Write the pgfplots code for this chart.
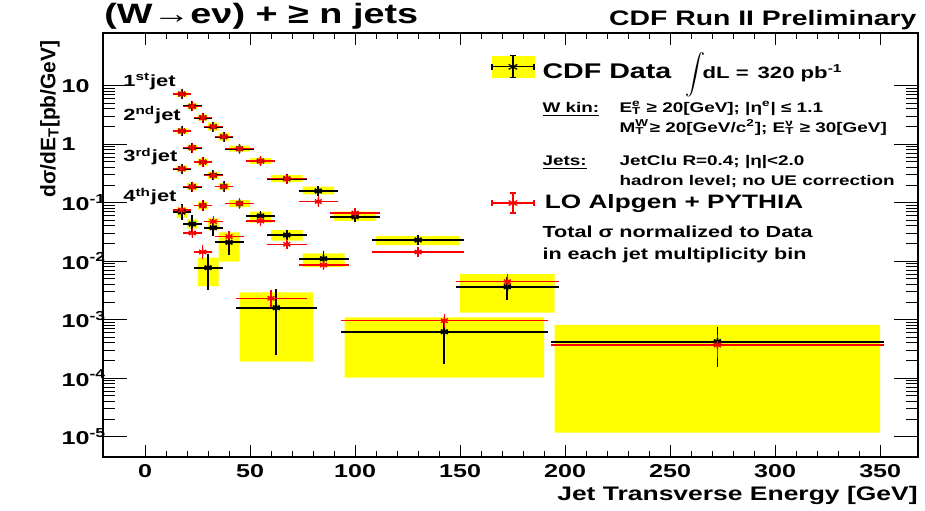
\documentclass[border=0pt]{standalone}
\usepackage{pgfplots}
\pgfplotsset{compat=1.18}
\usepackage{pgfplotstable}
\usepackage{fontspec}
\setmainfont{Liberation Sans}[FakeStretch=1.35]
\newfontfamily\plainfont{Liberation Sans}
\newcommand{\ES}[2]{\makebox[0pt][l]{\textsuperscript{#1}}\textsubscript{#2}}
\newcommand{\YL}[1]{\makebox[20.5pt][l]{#1}}
\definecolor{ryellow}{RGB}{255,255,0}
\definecolor{rred}{RGB}{255,0,0}

% 1st jet: data and LO MC  (x, y, half bin width, +err, -err)
\pgfplotstableread{
x y ex eyp eym
17.5 7.21 2.5 0.29 0.28
22.5 4.445 2.5 0.18 0.17
27.5 2.838 2.5 0.11 0.11
32.5 1.991 2.5 0.08 0.08
37.5 1.343 2.5 0.055 0.055
45 0.838 5 0.034 0.034
55 0.516 5 0.021 0.021
67.5 0.2572 7.5 0.011 0.011
82.5 0.1585 7.5 0.007 0.007
100 0.0576 10 0.003 0.003
130 0.02304 20 0.0012 0.0012
172.5 0.003666 22.5 0.001 0.00112
272.5 0.0004206 77.5 0.000228 0.0002365
}\dataA
\pgfplotstableread{
x y ex eyp eym
17.5 7.21 2.5 0.29 0.28
22.5 4.445 2.5 0.18 0.17
27.5 2.838 2.5 0.11 0.11
32.5 1.991 2.5 0.08 0.08
37.5 1.343 2.5 0.055 0.055
45 0.838 5 0.034 0.034
55 0.516 5 0.021 0.021
67.5 0.2572 7.5 0.011 0.011
82.5 0.1048 7.5 0.0045 0.0045
100 0.0667 10 0.0028 0.0028
130 0.01437 20 0.0006 0.0006
172.5 0.004464 22.5 0.00077 0.00065
272.5 0.0003693 77.5 0.0000984 0.000107
}\mcA
% 2nd jet
\pgfplotstableread{
x y ex eyp eym
17.5 1.681 2.5 0.07 0.07
22.5 0.8713 2.5 0.035 0.035
27.5 0.4962 2.5 0.02 0.02
32.5 0.2940 2.5 0.012 0.012
37.5 0.1892 2.5 0.008 0.008
45 0.09689 5 0.004 0.004
55 0.05924 5 0.0025 0.0025
67.5 0.02805 7.5 0.0015 0.0015
85 0.01103 10 0.0019 0.0016
142.5 0.0006235 47.5 0.000245 0.000416
}\dataB
\pgfplotstableread{
x y ex eyp eym
17.5 1.681 2.5 0.07 0.07
22.5 0.8713 2.5 0.035 0.035
27.5 0.4962 2.5 0.02 0.02
32.5 0.2940 2.5 0.012 0.012
37.5 0.1892 2.5 0.008 0.008
45 0.09689 5 0.004 0.004
55 0.04866 5 0.002 0.002
67.5 0.01945 7.5 0.0008 0.0008
85 0.00861 10 0.00035 0.00035
142.5 0.0009614 47.5 0.00012 0.000107
}\mcB
% 3rd jet
\pgfplotstableread{
x y ex eyp eym
17.5 0.3814 2.5 0.016 0.016
22.5 0.1877 2.5 0.008 0.008
27.5 0.08955 2.5 0.004 0.004
32.5 0.03737 2.5 0.0072 0.0061
40 0.02104 5 0.0036 0.0061
62.5 0.001604 17.5 0.001223 0.001309
}\dataC
\pgfplotstableread{
x y ex eyp eym
17.5 0.3814 2.5 0.016 0.016
22.5 0.1877 2.5 0.008 0.008
27.5 0.08955 2.5 0.004 0.004
32.5 0.04771 2.5 0.002 0.002
40 0.02643 5 0.0011 0.0011
60 0.002322 15 0.000428 0.000415
}\mcC
% 4th jet
\pgfplotstableread{
x y ex eyp eym
17.5 0.06934 2.5 0.0112 0.0096
22.5 0.04324 2.5 0.0088 0.0073
30 0.007742 5 0.00374 0.003975
}\dataD
\pgfplotstableread{
x y ex eyp eym
17.5 0.07502 2.5 0.003 0.003
22.5 0.03034 2.5 0.0012 0.0012
27.5 0.01437 2.5 0.0017 0.0017
}\mcD

\pgfplotsset{
  datastyle/.style={black, line width=0.9pt, only marks, mark=asterisk, mark size=2pt, forget plot,
    error bars/.cd, x dir=both, x explicit, y dir=both, y explicit,
    error bar style={line width=0.9pt, black},
    error mark options={black, line width=0.9pt, mark size=2pt}},
  mcstyle/.style={rred, line width=0.7pt, only marks, mark=asterisk, mark size=2pt, forget plot,
    error bars/.cd, x dir=both, x explicit, y dir=both, y explicit,
    error bar style={line width=0.7pt, rred},
    error mark options={rred, line width=0.7pt, mark size=2pt}},
  boxstyle/.style={fill=ryellow, draw=none, forget plot, unbounded coords=jump},
}
\tikzset{jetlab/.style={anchor=base west, inner sep=0pt, font=\fontsize{8.1}{10}\selectfont\bfseries}}

\begin{document}
\begin{tikzpicture}
\path[use as bounding box] (-51.5pt,-26.5pt) rectangle (411pt,228.5pt);
\begin{axis}[
  at={(0pt,0pt)}, anchor=south west, scale only axis,
  width=407.5pt, height=212pt,
  xmin=-20, xmax=368, ymode=log, ymin=4.5e-6, ymax=79.6,
  axis line style={line width=0.8pt},
  every tick/.style={black, line width=0.5pt},
  major tick length=6pt, minor tick length=3pt,
  xtick={0,50,...,350}, minor x tick num=4,
  xticklabels={0,50,100,150,200,250,300,350},
  ytick={1e-5,1e-4,1e-3,1e-2,1e-1,1,10},
  yticklabels={\YL{10\textsuperscript{-5}},\YL{10\textsuperscript{-4}},\YL{10\textsuperscript{-3}},\YL{10\textsuperscript{-2}},\YL{10\textsuperscript{-1}},\YL{1},\YL{10}},
  ytick style={/pgfplots/major tick length=11.8pt, /pgfplots/minor tick length=6pt},
  tick label style={font=\fontsize{9.3}{11}\selectfont\bfseries},
  yticklabel style={inner sep=0pt},
  xlabel={Jet Transverse Energy [GeV]},
  xlabel style={at={(rel axis cs:1,0)}, anchor=base east, inner sep=0pt, yshift=-21.5pt, font=\fontsize{9.8}{11}\selectfont\bfseries},
  ylabel={dσ/dE\textsubscript{T}[pb/GeV]},
  ylabel style={at={(rel axis cs:-0.065,0.9835)}, anchor=east, inner sep=0pt, rotate=0, font=\plainfont\fontsize{10.5}{12}\selectfont\bfseries},
  legend cell align=left,
  legend style={at={(0.476,0.965)}, anchor=north west, draw=none, fill=none, inner sep=0pt,
    column sep=2pt, row sep=0pt},
]
% systematic bands (yellow)
\addplot[boxstyle] coordinates {
(15,6.41) (20,6.41) (20,8.02) (15,8.02) (15,nan)
(20,3.95) (25,3.95) (25,5.00) (20,5.00) (20,nan)
(25,2.52) (30,2.52) (30,3.19) (25,3.19) (25,nan)
(30,1.70) (35,1.70) (35,2.33) (30,2.33) (30,nan)
(35,1.15) (40,1.15) (40,1.57) (35,1.57) (35,nan)
(40,0.745) (50,0.745) (50,0.943) (40,0.943) (40,nan)
(50,0.459) (60,0.459) (60,0.581) (50,0.581) (50,nan)
(60,0.224) (75,0.224) (75,0.295) (60,0.295) (60,nan)
(75,0.1391) (90,0.1391) (90,0.1877) (75,0.1877) (75,nan)
(90,0.0487) (110,0.0487) (110,0.0702) (90,0.0702) (90,nan)
(110,0.01891) (150,0.01891) (150,0.02696) (110,0.02696) (110,nan)
(150,0.001317) (195,0.001317) (195,0.006042) (150,0.006042) (150,nan)
(195,0.00001171) (350,0.00001171) (350,0.0008135) (195,0.0008135)
};
\addplot[boxstyle] coordinates {
(15,1.49) (20,1.49) (20,1.89) (15,1.89) (15,nan)
(20,0.774) (25,0.774) (25,0.980) (20,0.980) (20,nan)
(25,0.432) (30,0.432) (30,0.570) (25,0.570) (25,nan)
(30,0.256) (35,0.256) (35,0.3375) (30,0.3375) (30,nan)
(35,0.165) (40,0.165) (40,0.217) (35,0.217) (35,nan)
(40,0.0844) (50,0.0844) (50,0.1112) (40,0.1112) (40,nan)
(50,0.04586) (60,0.04586) (60,0.07073) (50,0.07073) (50,nan)
(60,0.02241) (75,0.02241) (75,0.03413) (60,0.03413) (60,nan)
(75,0.007961) (95,0.007961) (95,0.01365) (75,0.01365) (75,nan)
(95,0.000102) (190,0.000102) (190,0.001099) (95,0.001099)
};
\addplot[boxstyle] coordinates {
(15,0.339) (20,0.339) (20,0.429) (15,0.429) (15,nan)
(20,0.1635) (25,0.1635) (25,0.2155) (20,0.2155) (20,nan)
(25,0.0765) (30,0.0765) (30,0.1048) (25,0.1048) (25,nan)
(30,0.03413) (35,0.03413) (35,0.05411) (30,0.05411) (30,nan)
(35,0.009806) (45,0.009806) (45,0.03119) (35,0.03119) (35,nan)
(45,0.0001915) (80,0.0001915) (80,0.00294) (45,0.00294)
};
\addplot[boxstyle] coordinates {
(15,0.05541) (20,0.05541) (20,0.08344) (15,0.08344) (15,nan)
(20,0.03594) (25,0.03594) (25,0.05201) (20,0.05201) (20,nan)
(25,0.003767) (35,0.003767) (35,0.01148) (25,0.01148)
};
% data
\addplot[datastyle] table[x=x, y=y, x error=ex, y error plus=eyp, y error minus=eym] {\dataA};
\addplot[datastyle] table[x=x, y=y, x error=ex, y error plus=eyp, y error minus=eym] {\dataB};
\addplot[datastyle] table[x=x, y=y, x error=ex, y error plus=eyp, y error minus=eym] {\dataC};
\addplot[datastyle] table[x=x, y=y, x error=ex, y error plus=eyp, y error minus=eym] {\dataD};
% LO Alpgen + PYTHIA
\addplot[mcstyle] table[x=x, y=y, x error=ex, y error plus=eyp, y error minus=eym] {\mcA};
\addplot[mcstyle] table[x=x, y=y, x error=ex, y error plus=eyp, y error minus=eym] {\mcB};
\addplot[mcstyle] table[x=x, y=y, x error=ex, y error plus=eyp, y error minus=eym] {\mcC};
\addplot[mcstyle] table[x=x, y=y, x error=ex, y error plus=eyp, y error minus=eym] {\mcD};

% legend
\addlegendimage{legend image code/.code={
  \fill[ryellow] (0pt,-5.25pt) rectangle (21pt,5.25pt);
  \draw[black, line width=0.6pt] (0pt,0pt) -- (21pt,0pt);
  \draw[black, line width=0.6pt] (0pt,-1.5pt) -- (0pt,1.5pt);
  \draw[black, line width=0.6pt] (21pt,-1.5pt) -- (21pt,1.5pt);
  \draw[black, line width=0.6pt] (10.5pt,-5.5pt) -- (10.5pt,5.5pt);
  \draw[black, line width=0.6pt] (9pt,-5.5pt) -- (12pt,-5.5pt);
  \draw[black, line width=0.6pt] (9pt,5.5pt) -- (12pt,5.5pt);
  \draw[black, line width=0.6pt, mark=asterisk, mark size=2.5pt] plot coordinates {(10.5pt,0pt)};
}}
\addlegendentry[font=\fontsize{10.6}{12}\selectfont\bfseries]{CDF Data\hspace{7pt}{\fontsize{8.2}{10}\selectfont$\displaystyle\int$\!dL = \,320 pb\textsuperscript{-1}}}
\addlegendimage{empty legend}
\addlegendentry[font=\fontsize{7}{10}\selectfont\bfseries, align=left]{\rule{0pt}{11.35pt}\makebox[38.5pt][l]{\underline{W kin:}}E\ES{e}{T} ≥ 20[GeV]; |η\textsuperscript{e}| ≤ 1.1\\
\hspace*{38.5pt}M\ES{W}{T} ≥ 20[GeV/c\textsuperscript{2}]; E\ES{ν}{T} ≥ 30[GeV]\\[6.65pt]
\makebox[38.5pt][l]{\underline{Jets:}}JetClu R=0.4; |η|<2.0\\
\hspace*{38.5pt}hadron level; no UE correction}
\addlegendimage{legend image code/.code={
  \draw[rred, line width=0.6pt] (0pt,0pt) -- (21pt,0pt);
  \draw[rred, line width=0.6pt] (0pt,-1.5pt) -- (0pt,1.5pt);
  \draw[rred, line width=0.6pt] (21pt,-1.5pt) -- (21pt,1.5pt);
  \draw[rred, line width=0.6pt] (10.5pt,-5pt) -- (10.5pt,5pt);
  \draw[rred, line width=0.6pt] (9pt,-5pt) -- (12pt,-5pt);
  \draw[rred, line width=0.6pt] (9pt,5pt) -- (12pt,5pt);
  \draw[rred, line width=0.6pt, mark=asterisk, mark size=2.5pt] plot coordinates {(10.5pt,0pt)};
}}
\addlegendentry[font=\fontsize{9.7}{12}\selectfont\bfseries, inner xsep=3.2pt, inner ysep=0pt]{LO Alpgen + PYTHIA}
\addlegendimage{empty legend}
\addlegendentry[font=\fontsize{8}{11}\selectfont\bfseries, align=left]{\rule{0pt}{9.75pt}Total σ normalized to Data\\ in each jet multiplicity bin}

% jet labels
\node[jetlab] at (axis cs:-10.5,9.88) {1\textsuperscript{st}jet};
\node[jetlab] at (axis cs:-10.5,2.59) {2\textsuperscript{nd}jet};
\node[jetlab] at (axis cs:-10.5,0.502) {3\textsuperscript{rd}jet};
\node[jetlab] at (axis cs:-10.5,0.104) {4\textsuperscript{th}jet};
\end{axis}
\node[anchor=base west, inner sep=0pt, font=\fontsize{14}{16}\selectfont\bfseries] at (0.5pt,216.9pt) {(W→eν) + ≥ n jets};
\node[anchor=base east, inner sep=0pt, font=\fontsize{10.5}{12}\selectfont\bfseries] at (406.9pt,215.5pt) {CDF Run II Preliminary};
\end{tikzpicture}
\end{document}
